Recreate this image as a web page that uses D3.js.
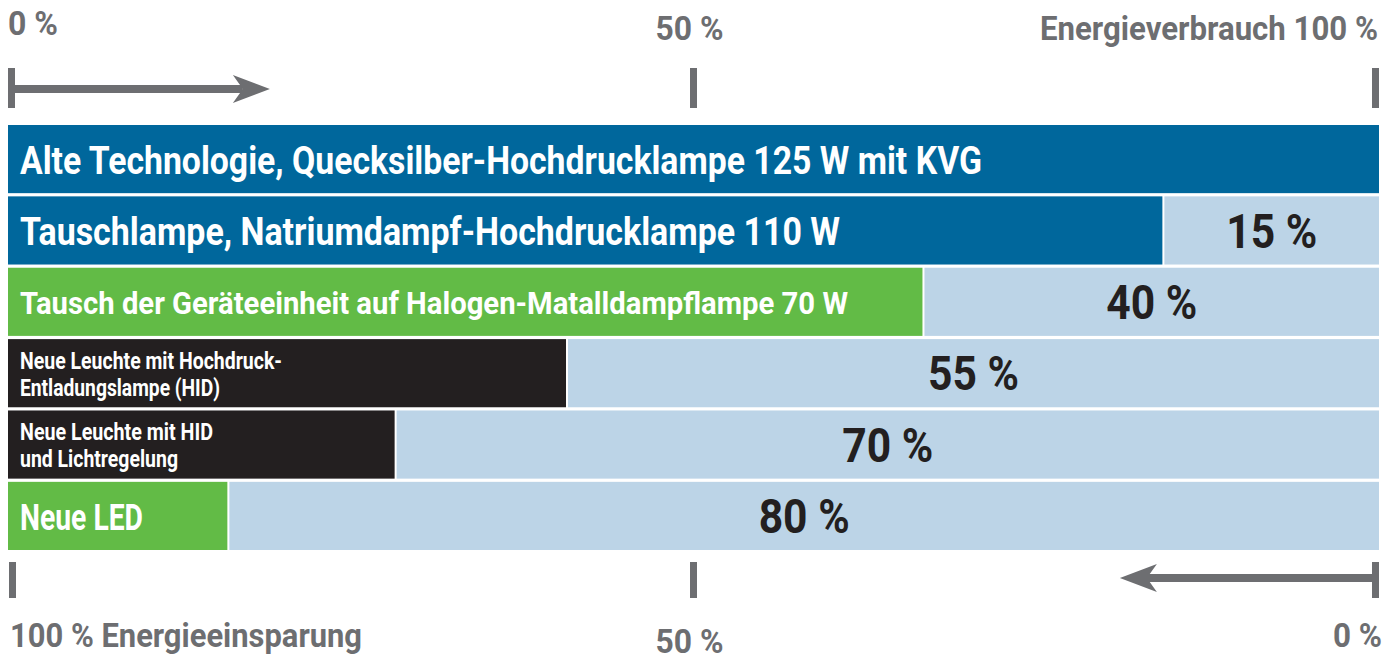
<!DOCTYPE html>
<html>
<head>
<meta charset="utf-8">
<script src="https://cdn.jsdelivr.net/npm/d3@7"></script>
<style>
  body { margin: 0; background: #fff; }
  text { font-family: Roboto, "Liberation Sans", sans-serif; font-weight: bold; }
</style>
</head>
<body>
<div id="plot"></div>
<script>
// data
const measures = [
  ["Alte Technologie, Quecksilber-Hochdrucklampe 125 W mit KVG"],
  ["Tauschlampe, Natriumdampf-Hochdrucklampe 110 W"],
  ["Tausch der Geräteeinheit auf Halogen-Matalldampflampe 70 W"],
  ["Neue Leuchte mit Hochdruck-", "Entladungslampe (HID)"],
  ["Neue Leuchte mit HID", "und Lichtregelung"],
  ["Neue LED"]
];
const savings = [null, 15, 40, 55, 70, 80];          // printed saving in %
const drawnUse = [100, 84.2, 66.7, 40.7, 28.2, 16.0]; // bar length as drawn in the graphic (not to scale)
const groups = ["old", "old", "green", "dark", "dark", "green"];
const axisTicks = [0, 50, 100];
const topLabels = ["0 %", "50 %", "Energieverbrauch 100 %"];
const bottomLabels = ["100 % Energieeinsparung", "50 %", "0 %"];

// Width and height
const w = 1399;
const h = 657;
const gray = "#6d6e71";
const lightBlue = "#bcd4e7";

// condensed type: font size per row and the width each line takes in the print
const labelSize = [39, 39, 31, 23, 23, 37];
const labelWidth = [[962], [820], [828], [262, 200], [193, 158], [123]];
const pctSize = 48;
const pctWidth = 91;
const topWidth = [50, 68, 338];
const bottomWidth = [352, 68, 49];

const color = d3.scaleOrdinal()
  .domain(["old", "green", "dark"])
  .range(["#00679c", "#62bb46", "#231f20"]);

const svg = d3.select("div#plot")
  .append("svg")
    .attr("width", w)
    .attr("height", h);

const xScale = d3.scaleLinear()
  .domain([0, 100])
  .range([8, 1379]);

const yScale = d3.scaleBand()
  .domain(d3.range(measures.length))
  .range([125, 550])
  .paddingInner(0.045);

const bw = yScale.bandwidth();

// rows
const row = svg.append("g")
  .attr("id", "bars")
  .selectAll("g")
  .data(d3.range(measures.length))
  .enter()
  .append("g")
    .attr("transform", i => `translate(0, ${yScale(i)})`);

// light part = saving
row.filter(i => savings[i] !== null)
  .append("rect")
    .attr("x", i => xScale(drawnUse[i]) + 2)
    .attr("width", i => xScale(100) - xScale(drawnUse[i]) - 2)
    .attr("height", bw)
    .attr("fill", lightBlue);

// solid part = remaining use
row.append("rect")
  .attr("x", xScale(0))
  .attr("width", i => xScale(drawnUse[i]) - xScale(0))
  .attr("height", bw)
  .attr("fill", i => color(groups[i]));

// measure names
row.each(function(i) {
  const lines = measures[i];
  const fs = labelSize[i];
  const lh = fs * 1.15;
  const cap = fs * 0.711;
  const first = bw / 2 - (lines.length - 1) * lh / 2 + cap / 2;
  d3.select(this).selectAll("text.name")
    .data(lines)
    .enter()
    .append("text")
      .attr("class", "name")
      .attr("x", 20)
      .attr("y", (d, k) => first + k * lh + 1)
      .attr("textLength", (d, k) => labelWidth[i][k])
      .attr("lengthAdjust", "spacingAndGlyphs")
      .attr("fill", "#fff")
      .style("font-size", fs + "px")
      .text(d => d);
});

// saving labels
row.filter(i => savings[i] !== null)
  .append("text")
    .attr("x", i => (xScale(drawnUse[i]) + 2 + xScale(100)) / 2 - pctWidth / 2)
    .attr("y", bw / 2 + pctSize * 0.711 / 2)
    .attr("textLength", pctWidth)
    .attr("lengthAdjust", "spacingAndGlyphs")
    .attr("fill", "#231f20")
    .style("font-size", pctSize + "px")
    .text(i => savings[i] + " %");

// ticks top and bottom
const axes = svg.append("g").attr("id", "axes");

axes.selectAll("rect.top")
  .data(axisTicks)
  .enter()
  .append("rect")
    .attr("class", "top")
    .attr("x", (d, i) => xScale(d) - (i === 0 ? 0 : i === 2 ? 7 : 3.5))
    .attr("y", 68)
    .attr("width", 7)
    .attr("height", 40)
    .attr("fill", gray);

axes.selectAll("rect.bottom")
  .data(axisTicks)
  .enter()
  .append("rect")
    .attr("class", "bottom")
    .attr("x", (d, i) => xScale(d) - (i === 0 ? -1 : i === 2 ? 7 : 3.5))
    .attr("y", 562)
    .attr("width", 7)
    .attr("height", 36)
    .attr("fill", gray);

// left edge of each axis label
const topX = [xScale(0), xScale(50) - 38, xScale(100) - topWidth[2] - 1];
const bottomX = [xScale(0) + 2, xScale(50) - 38, xScale(100) + 3 - bottomWidth[2]];

axes.selectAll("text.top")
  .data(axisTicks)
  .enter()
  .append("text")
    .attr("class", "top")
    .attr("x", (d, i) => topX[i])
    .attr("y", (d, i) => i === 0 ? 35 : 40)
    .attr("textLength", (d, i) => topWidth[i])
    .attr("lengthAdjust", "spacingAndGlyphs")
    .attr("fill", gray)
    .style("font-size", "34px")
    .text((d, i) => topLabels[i]);

axes.selectAll("text.bottom")
  .data(axisTicks)
  .enter()
  .append("text")
    .attr("class", "bottom")
    .attr("x", (d, i) => bottomX[i])
    .attr("y", (d, i) => i === 1 ? 653 : 647)
    .attr("textLength", (d, i) => bottomWidth[i])
    .attr("lengthAdjust", "spacingAndGlyphs")
    .attr("fill", gray)
    .style("font-size", "34px")
    .text((d, i) => bottomLabels[i]);

// arrows: consumption grows to the right, saving grows to the left
function arrow(x0, tip, yc, dir) {
  const notch = tip - dir * 27;
  const back = tip - dir * 37;
  axes.append("rect")
    .attr("x", Math.min(x0, notch))
    .attr("y", yc - 4)
    .attr("width", Math.abs(notch - x0))
    .attr("height", 8)
    .attr("fill", gray);
  axes.append("path")
    .attr("d", `M${tip},${yc} L${back},${yc - 14} L${notch},${yc} L${back},${yc + 14} Z`)
    .attr("fill", gray);
}
arrow(xScale(0) + 6, xScale(19.1), 89, 1);
arrow(xScale(100) - 6, xScale(81.1), 578, -1);
</script>
</body>
</html>
